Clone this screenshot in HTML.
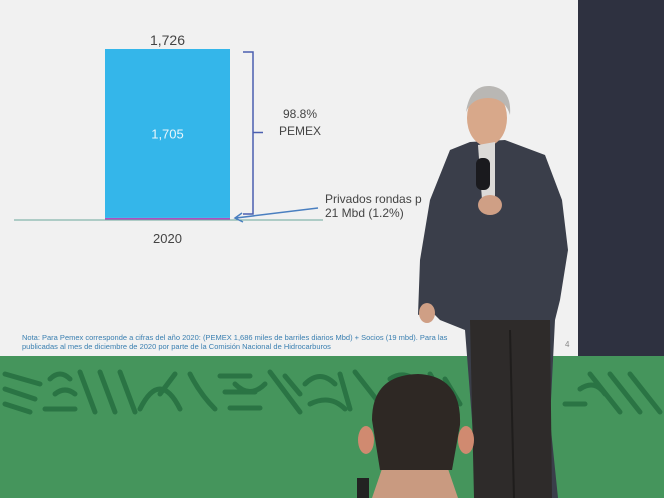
<!DOCTYPE html>
<html><head><meta charset="utf-8"><style>
body{margin:0;width:664px;height:498px;overflow:hidden;position:relative;background:#40905a;font-family:"Liberation Sans",sans-serif}
.abs{position:absolute}
</style></head><body>
<div class="abs" style="left:578px;top:0;width:86px;height:360px;background:#2e3140"></div>
<div class="abs" style="left:0;top:356px;width:664px;height:142px;background:#45955c"></div>
<svg class="abs" style="left:0;top:364px" width="664" height="54">
<g stroke="#2a7444" stroke-width="5" fill="none" stroke-linecap="round">
<path d="M5 10 L40 20 M5 25 L35 35 M5 40 L30 48 M50 15 Q60 5 70 15 M55 30 Q65 22 75 30 M80 8 L95 48 M100 8 L115 48 M120 8 L135 48 M140 45 Q160 5 180 45 M190 10 Q200 30 215 45 M220 12 L250 12 M225 28 L255 28 M230 44 L260 44 M270 8 L300 48 M305 20 Q320 5 335 20 M310 40 Q330 30 345 45 M355 8 L380 40 M390 15 Q405 5 420 20 M395 35 Q410 25 425 38"/>
<path d="M45 45 L75 45 M160 30 L175 10 M235 20 Q250 35 265 20 M285 12 L300 30 M340 10 L350 45 M430 10 L450 45 M445 15 L460 40"/>
<path d="M590 10 L620 48 M610 10 L640 48 M630 10 L660 48 M580 25 Q595 15 605 30 M565 40 L585 40"/>
</g></svg>
<div class="abs" style="left:0;top:0;width:578px;height:356px;background:#f1f1f1"></div>

<svg class="abs" style="left:0;top:0" width="578" height="356">
<g id="chart"></g>
</svg>
<div class="abs" style="left:22px;top:333px;font-size:7.5px;line-height:9px;color:#3a7fb0;white-space:nowrap">Nota: Para Pemex corresponde a cifras del año 2020: (PEMEX 1,686 miles de barriles diarios Mbd) + Socios (19 mbd). Para las<br>publicadas al mes de diciembre de 2020 por parte de la Comisión Nacional de Hidrocarburos</div>
<div class="abs" style="left:565px;top:340px;font-size:8px;color:#888">4</div>

<svg class="abs" style="left:0;top:0" width="664" height="498">
<path d="M450 150 L470 142 L505 140 L545 155 L562 200 L568 250 L560 300 L555 320 L550 420 L558 498 L478 498 L472 420 L465 330 L440 320 L430 310 L418 315 L420 260 L430 200 Z" fill="#3a3e4a"/>
<path d="M470 320 L550 320 L552 498 L474 498 Z" fill="#2e2b2a"/>
<path d="M510 330 L514 498" stroke="#1f1d1c" stroke-width="2"/>
<ellipse cx="487" cy="118" rx="20" ry="28" fill="#d8a88a"/>
<path d="M466 112 Q470 85 490 86 Q512 88 510 115 Q505 98 488 98 Q472 98 466 112Z" fill="#b9b7b4"/>
<path d="M478 145 L495 142 L495 200 L482 200Z" fill="#dcdad8"/>
<rect x="476" y="158" width="14" height="32" rx="6" fill="#1a1a1e"/>
<ellipse cx="490" cy="205" rx="12" ry="10" fill="#cf9f85"/>
<ellipse cx="427" cy="313" rx="8" ry="10" fill="#cf9f85"/>
</svg>
<svg class="abs" style="left:0;top:0" width="664" height="498">
<ellipse cx="366" cy="440" rx="8" ry="14" fill="#d08a70"/>
<ellipse cx="466" cy="440" rx="8" ry="14" fill="#d08a70"/>
<path d="M385 460 L445 460 L458 498 L372 498Z" fill="#c99a80"/>
<path d="M372 420 Q372 375 418 374 Q462 376 460 425 L452 470 L380 470Z" fill="#2e2824"/>
<rect x="357" y="478" width="12" height="20" fill="#222"/>
</svg>

<script>
const categories=["2020"];
const pemexValues=[1705];
const privadosValues=[21];
const totalLabels=["1,726"];
const g=document.getElementById('chart');
const NS="http://www.w3.org/2000/svg";
const baseY=220, topY=49, maxV=1726;
const y=v=>baseY-(v/maxV)*(baseY-topY);
const h=v=>(v/maxV)*(baseY-topY);
const bx=105,bw=125;
function mk(t,a){const e=document.createElementNS(NS,t);for(const k in a)e.setAttribute(k,a[k]);g.appendChild(e);return e;}
function tx(x,yy,s,size,anchor,fill){const e=mk('text',{x:x,y:yy,'font-size':size,'text-anchor':anchor,fill:fill,'font-family':'Liberation Sans, sans-serif'});e.textContent=s;return e;}
const priv=privadosValues[0],pem=pemexValues[0],tot=pem+priv;
const r1=mk('rect',{x:bx,y:y(priv),width:bw,height:h(priv),fill:'#b04ec0'});


const r2=mk('rect',{x:bx,y:y(tot),width:bw,height:h(pem),fill:'#34b6ea'});


const ax=mk('line',{x1:14,x2:323,y1:baseY,y2:baseY,stroke:'#6aa79a','stroke-width':1});


const t1=tx(bx+bw/2,y(tot)-4,totalLabels[0],14,'middle','#444');


const t2=tx(bx+bw/2,(y(tot)+y(priv))/2+5,pem.toLocaleString('en-US'),13,'middle','#eaf6fb');


const t3=tx(bx+bw/2,243,categories[0],13,'middle','#444');


const br=mk('path',{d:`M243 ${y(tot)+3} L253 ${y(tot)+3} L253 ${baseY-6} L243 ${baseY-6} M253 ${(y(tot)+baseY)/2-2} L263 ${(y(tot)+baseY)/2-2}`,stroke:'#4a5fb0','stroke-width':1.5,fill:'none'});


const t4=tx(300,118,(pem/tot*100).toFixed(1)+'%',12,'middle','#444');


const t5=tx(300,135,'PEMEX',12,'middle','#444');


const ar=mk('path',{d:`M318 208 L236 218 M242 213 L235 218 L243 222`,stroke:'#4a7fc0','stroke-width':1.5,fill:'none'});


const t6=tx(325,203,'Privados rondas p',12,'start','#444');


const t7=tx(325,217,priv+' Mbd ('+(priv/tot*100).toFixed(1)+'%)',12,'start','#444');


</script>
</body></html>
